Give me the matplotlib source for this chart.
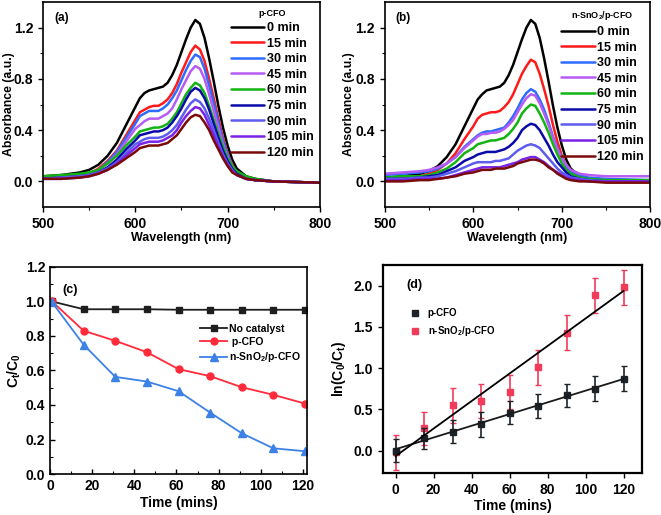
import numpy as np
import matplotlib
matplotlib.use("Agg")
import matplotlib.pyplot as plt
from matplotlib.lines import Line2D

plt.rcParams['font.family'] = ['Liberation Sans', 'DejaVu Sans']
plt.rcParams['font.weight'] = 'bold'
plt.rcParams['mathtext.fontset'] = 'custom'
plt.rcParams['mathtext.rm'] = 'Liberation Sans:bold'
plt.rcParams['mathtext.it'] = 'Liberation Sans:bold'
plt.rcParams['mathtext.bf'] = 'Liberation Sans:bold'
plt.rcParams['mathtext.default'] = 'bf'

# ---------------- data ----------------
wavelength = [500, 520, 540, 550, 560, 570, 580, 590, 600, 605, 610, 615, 620, 625,
              630, 635, 640, 645, 650, 655, 660, 665, 670, 675, 680, 685, 690, 695,
              700, 705, 710, 720, 730, 750, 800]
time_labels = ['0 min', '15 min', '30 min', '45 min', '60 min', '75 min',
               '90 min', '105 min', '120 min']

a_0 = [.04, .05, .07, .09, .13, .20, .30, .44, .58, .65, .69, .71, .72, .73, .74, .77, .83, .91, 1.01, 1.11, 1.20, 1.26, 1.23, 1.12, .96, .78, .59, .42, .28, .17, .10, .04, .02, .00, -.01]
a_15 = [.02, .03, .05, .06, .10, .16, .24, .36, .48, .54, .56, .58, .59, .59, .61, .64, .69, .76, .85, .93, 1.01, 1.06, 1.03, .94, .80, .65, .49, .34, .22, .13, .07, .03, .01, .00, -.01]
a_30 = [.02, .03, .04, .06, .09, .15, .23, .34, .45, .51, .53, .55, .55, .55, .57, .60, .65, .71, .79, .87, .94, .99, .97, .88, .75, .61, .46, .32, .21, .12, .07, .03, .01, .00, -.01]
a_45 = [.02, .03, .04, .06, .09, .14, .21, .31, .41, .44, .47, .49, .49, .49, .51, .53, .57, .64, .72, .79, .86, .90, .88, .80, .68, .55, .42, .29, .19, .11, .06, .03, .01, .00, -.01]
a_60 = [.04, .05, .06, .07, .09, .14, .20, .28, .35, .39, .40, .41, .42, .42, .43, .45, .49, .54, .61, .68, .73, .77, .75, .69, .59, .48, .37, .27, .18, .12, .08, .04, .02, .00, -.01]
a_75 = [.02, .03, .04, .05, .07, .11, .17, .25, .32, .36, .37, .38, .39, .39, .40, .42, .46, .51, .57, .64, .70, .73, .71, .65, .56, .45, .34, .24, .16, .10, .06, .02, .01, .00, -.01]
a_90 = [.02, .03, .04, .05, .07, .10, .15, .22, .29, .31, .33, .34, .34, .34, .35, .37, .40, .44, .50, .56, .61, .64, .62, .57, .49, .40, .30, .21, .14, .09, .05, .02, .01, .00, -.01]
a_105 = [.02, .02, .03, .04, .06, .09, .14, .20, .26, .29, .30, .31, .31, .31, .32, .34, .36, .40, .46, .51, .55, .58, .57, .52, .44, .36, .27, .19, .13, .08, .05, .02, .01, .00, -.01]
a_120 = [.02, .02, .03, .04, .06, .09, .13, .18, .23, .26, .27, .28, .28, .28, .29, .30, .33, .36, .41, .46, .50, .52, .51, .46, .40, .32, .25, .18, .12, .07, .05, .02, .01, .00, -.01]

b_0 = [.03, .04, .06, .08, .12, .19, .29, .43, .57, .64, .68, .71, .72, .73, .74, .77, .83, .91, 1.01, 1.11, 1.20, 1.26, 1.23, 1.12, .96, .78, .59, .42, .28, .17, .10, .04, .02, .01, .00]
b_15 = [.02, .03, .04, .06, .09, .14, .22, .33, .43, .49, .52, .53, .54, .54, .55, .58, .62, .68, .76, .84, .90, .95, .93, .84, .72, .59, .44, .31, .20, .12, .07, .03, .02, .01, .00]
b_30 = [.05, .06, .07, .08, .10, .14, .19, .27, .33, .36, .38, .39, .39, .40, .41, .42, .46, .51, .57, .64, .69, .72, .70, .64, .56, .46, .35, .26, .18, .12, .08, .05, .03, .02, .01]
b_45 = [.06, .07, .08, .09, .11, .14, .19, .26, .32, .35, .37, .37, .38, .38, .39, .41, .44, .48, .54, .60, .65, .68, .67, .61, .53, .44, .34, .25, .18, .13, .09, .06, .05, .04, .04]
b_60 = [.03, .04, .04, .05, .07, .10, .15, .22, .26, .29, .30, .31, .32, .32, .33, .34, .37, .41, .46, .53, .57, .60, .59, .53, .46, .38, .29, .21, .14, .09, .06, .03, .02, .01, .01]
b_75 = [.02, .02, .03, .04, .05, .08, .11, .16, .19, .21, .22, .23, .23, .23, .24, .25, .27, .30, .34, .40, .43, .45, .44, .40, .34, .28, .21, .15, .11, .07, .04, .02, .01, .00, .00]
b_90 = [.02, .02, .03, .03, .04, .06, .08, .11, .14, .15, .15, .15, .15, .16, .16, .17, .18, .21, .24, .26, .28, .29, .28, .26, .22, .18, .14, .10, .07, .05, .03, .02, .01, .00, .00]
b_105 = [.01, .01, .02, .02, .02, .03, .05, .07, .09, .10, .11, .11, .11, .11, .11, .12, .13, .14, .15, .17, .18, .19, .19, .17, .15, .12, .09, .07, .05, .03, .02, .01, .00, .00, .00]
b_120 = [.00, .00, .01, .01, .02, .03, .04, .06, .07, .08, .09, .09, .09, .10, .10, .10, .11, .12, .14, .15, .16, .17, .17, .16, .14, .11, .09, .06, .04, .02, .01, .00, .00, -.01, -.01]

spec_colors = ['#000000', '#ff1a1a', '#2f6bff', '#b65cf2', '#12b412',
               '#0a0aa8', '#5c5cf0', '#7a22e6', '#7a0a0a']

time_c = [1, 16, 31, 46, 61, 76, 91, 106, 121]
no_catalyst = [1.00, 0.955, 0.955, 0.955, 0.952, 0.952, 0.952, 0.952, 0.952]
pcfo_c = [1.00, 0.83, 0.772, 0.706, 0.608, 0.567, 0.503, 0.459, 0.408]
sno2_c = [0.995, 0.749, 0.563, 0.536, 0.480, 0.356, 0.236, 0.149, 0.132]

time_d = [0, 15, 30, 45, 60, 75, 90, 105, 120]
pcfo_d = [0.00, 0.15, 0.23, 0.32, 0.46, 0.54, 0.67, 0.75, 0.87]
pcfo_err = [0.14, 0.13, 0.14, 0.15, 0.14, 0.15, 0.14, 0.15, 0.15]
sno2_d = [-0.02, 0.27, 0.55, 0.60, 0.71, 1.01, 1.43, 1.88, 1.98]
sno2_err = [0.21, 0.20, 0.21, 0.21, 0.21, 0.21, 0.21, 0.21, 0.21]

# ---------------- figure ----------------
fig = plt.figure(figsize=(6.61, 5.15), dpi=100)

def style(ax, lw=1.2):
    for s in ax.spines.values():
        s.set_linewidth(lw)
    ax.tick_params(axis='both', which='major', labelsize=10, width=1.0, length=3.5, direction='out')
    ax.tick_params(axis='both', which='minor', width=0.8, length=2, direction='out')
    for lab in ax.get_xticklabels() + ax.get_yticklabels():
        lab.set_fontweight('bold')

def spectra(ax, series, title, letter, ylab_x):
    for y, c, lab in zip(series, spec_colors, time_labels):
        ax.plot(wavelength, y, color=c, lw=1.8, label=lab,
                solid_joinstyle='round', solid_capstyle='round')
    ax.set_xlim(500, 800)
    ax.set_ylim(-0.2, 1.4)
    ax.set_xticks([500, 600, 700, 800])
    ax.set_xticks([550, 650, 750], minor=True)
    ax.set_yticks([0.0, 0.4, 0.8, 1.2])
    ax.set_yticks([0.2, 0.6, 1.0], minor=True)
    ax.set_xlabel('Wavelength (nm)', fontsize=9, fontweight='bold', labelpad=1)
    ax.set_ylabel('Absorbance (a.u.)', fontsize=8.8, fontweight='bold')
    ax.yaxis.set_label_coords(ylab_x, 0.5)
    ax.text(0.04, 0.95, letter, transform=ax.transAxes, fontsize=8.5, fontweight='bold', va='top')
    ax.legend(loc='upper right', bbox_to_anchor=(1.0, 0.995), frameon=False,
              prop={'weight': 'bold', 'size': 9}, handlelength=2.7, handletextpad=0.2,
              labelspacing=0.29, borderaxespad=0.1, title=title,
              title_fontproperties={'weight': 'bold', 'size': 6.5})
    style(ax)

ax_a = fig.add_axes([0.065, 0.598, 0.419, 0.398])
spectra(ax_a, [a_0, a_15, a_30, a_45, a_60, a_75, a_90, a_105, a_120], 'p-CFO', '(a)', -0.102)

ax_b = fig.add_axes([0.582, 0.598, 0.402, 0.398])
spectra(ax_b, [b_0, b_15, b_30, b_45, b_60, b_75, b_90, b_105, b_120],
        r'n-SnO$_2$/p-CFO', '(b)', -0.113)

# (c)
ax_c = fig.add_axes([0.0756, 0.0796, 0.389, 0.402])
ax_c.plot(time_c, no_catalyst, '-s', color='#1e1e1e', ms=4.5, lw=1.3, label='No catalyst')
ax_c.plot(time_c, pcfo_c, '-o', color='#ff2a3a', ms=5, lw=1.3, label=' p-CFO')
ax_c.plot(time_c, sno2_c, '-^', color='#3c82e6', ms=5.5, lw=1.3, label=r'n-SnO$_2$/p-CFO')
ax_c.set_xlim(0, 122)
ax_c.set_ylim(0, 1.2)
ax_c.set_xticks([0, 20, 40, 60, 80, 100, 120])
ax_c.set_xticks([10, 30, 50, 70, 90, 110], minor=True)
ax_c.set_yticks([0.0, 0.2, 0.4, 0.6, 0.8, 1.0, 1.2])
ax_c.set_yticks(np.arange(0.1, 1.2, 0.2), minor=True)
ax_c.set_xlabel('Time (mins)', fontsize=10, fontweight='bold', labelpad=2)
ax_c.set_ylabel(r'C$_t$/C$_0$', fontsize=10, fontweight='bold', labelpad=2)
ax_c.text(0.05, 0.92, '(c)', transform=ax_c.transAxes, fontsize=9, fontweight='bold', va='top')
ax_c.legend(loc='upper right', bbox_to_anchor=(1.0, 0.755), frameon=False,
            prop={'weight': 'bold', 'size': 7.5}, handlelength=2.6, handletextpad=0.2,
            labelspacing=0.3, borderaxespad=0.2)
style(ax_c)
ax_c.tick_params(axis='both', which='both', direction='in')

# (d)
ax_d = fig.add_axes([0.579, 0.0816, 0.393, 0.404])
fit_p = np.polyfit(time_d, pcfo_d, 1)
fit_s = np.polyfit(time_d, sno2_d, 1)
xs = np.array([time_d[0], time_d[-1]])
ax_d.errorbar(time_d, sno2_d, yerr=sno2_err, fmt='s', color='#f03c5a', ms=5,
              capsize=2.5, elinewidth=1.2, capthick=1.0, zorder=2)
ax_d.errorbar(time_d, pcfo_d, yerr=pcfo_err, fmt='s', color='#1c2328', ms=5,
              capsize=2.5, elinewidth=1.2, capthick=1.0, zorder=3)
ax_d.plot(xs, np.polyval(fit_p, xs), color='#1a1a1a', lw=1.3, zorder=4)
ax_d.plot(xs, np.polyval(fit_s, xs), color='#000000', lw=1.3, zorder=4)
ax_d.set_xlim(-6.8, 130)
ax_d.set_ylim(-0.27, 2.25)
ax_d.set_xticks([0, 20, 40, 60, 80, 100, 120])
ax_d.set_yticks([0.0, 0.5, 1.0, 1.5, 2.0])
ax_d.set_xlabel('Time (mins)', fontsize=10, fontweight='bold', labelpad=2)
ax_d.set_ylabel(r'ln(C$_0$/C$_t$)', fontsize=10, fontweight='bold', labelpad=4)
ax_d.text(0.09, 0.93, '(d)', transform=ax_d.transAxes, fontsize=9, fontweight='bold', va='top')
hp = Line2D([], [], ls='none', marker='s', color='#1c2328', ms=5)
hs = Line2D([], [], ls='none', marker='s', color='#f03c5a', ms=5)
ax_d.legend([hp, hs], ['p-CFO', r'n-SnO$_2$/p-CFO'], loc='upper left',
            bbox_to_anchor=(0.08, 0.81), frameon=False,
            prop={'weight': 'bold', 'size': 7}, handlelength=1.5, handletextpad=0.6,
            labelspacing=0.6, borderaxespad=0.0)
style(ax_d, lw=1.6)

fig.savefig('out.png', dpi=100)
